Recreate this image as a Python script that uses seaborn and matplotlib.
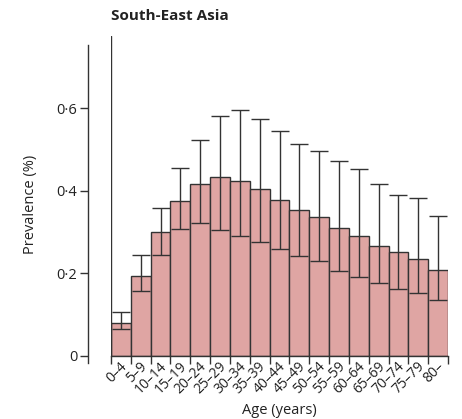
import matplotlib
matplotlib.use("Agg")
import matplotlib.pyplot as plt
import seaborn as sns
import pandas as pd
import numpy as np
from matplotlib.transforms import ScaledTranslation

# ---- data ----
age_groups = ["0–4", "5–9", "10–14", "15–19", "20–24", "25–29", "30–34", "35–39",
              "40–44", "45–49", "50–54", "55–59", "60–64", "65–69", "70–74", "75–79", "80–"]
prevalence = [0.079, 0.194, 0.301, 0.376, 0.416, 0.432, 0.424, 0.403, 0.378,
              0.354, 0.336, 0.310, 0.289, 0.267, 0.251, 0.234, 0.208]
lower_ci = [0.064, 0.158, 0.243, 0.307, 0.322, 0.304, 0.291, 0.276, 0.259,
            0.242, 0.229, 0.206, 0.191, 0.177, 0.161, 0.152, 0.135]
upper_ci = [0.107, 0.244, 0.359, 0.455, 0.523, 0.582, 0.596, 0.575, 0.544,
            0.513, 0.496, 0.471, 0.452, 0.416, 0.390, 0.382, 0.339]
y_ticks = [0, 0.2, 0.4, 0.6]
y_tick_labels = ["0", "0·2", "0·4", "0·6"]
title = "South-East Asia"
x_label = "Age (years)"
y_label = "Prevalence (%)"

bar_color = "#dfa5a3"
line_color = "#333333"
text_color = "#222222"

sns.set_theme(style="ticks")
plt.rcParams["font.family"] = ["Open Sans", "DejaVu Sans"]

fig = plt.figure(figsize=(4.62, 4.19), dpi=100)
ax = fig.add_axes([111 / 462, 1 - 355.7 / 419, 337 / 462, 319.7 / 419])

df = pd.DataFrame({"age": age_groups, "prev": prevalence})
sns.barplot(data=df, x="age", y="prev", color=bar_color, saturation=1,
            width=1.0, edgecolor=line_color, linewidth=1.0, errorbar=None, ax=ax)

x = np.arange(len(age_groups))
prev = np.array(prevalence)
yerr = [prev - np.array(lower_ci), np.array(upper_ci) - prev]
ax.errorbar(x, prev, yerr=yerr, fmt="none", ecolor=line_color, elinewidth=1.0,
            capsize=6.5, capthick=1.0, zorder=5)

ax.set_xlim(-0.5, len(age_groups) - 0.5)
ax.set_ylim(0, 0.775)

for s in ["top", "right"]:
    ax.spines[s].set_visible(False)
ax.spines["left"].set_position(("outward", 16.5))
ax.spines["left"].set_bounds(-0.017, 0.752)
ax.spines["left"].set_color(line_color)
ax.spines["left"].set_linewidth(1.0)
ax.spines["bottom"].set_bounds(-0.5, len(age_groups) - 0.5)
ax.spines["bottom"].set_color(line_color)
ax.spines["bottom"].set_linewidth(1.0)
ax.axvline(-0.5, color=line_color, lw=1.0, zorder=6)

ax.set_yticks(y_ticks)
ax.set_yticklabels(y_tick_labels)
ax.tick_params(axis="y", direction="out", length=5.8, width=1.0, color=line_color,
               labelsize=10.5, labelcolor=text_color, pad=2)

ax.set_xticks(x)
ax.set_xticklabels(age_groups, rotation=45, ha="right", va="center",
                   rotation_mode="anchor")
ax.set_xticks(np.arange(-0.5, len(age_groups), 1.0), minor=True)
ax.tick_params(axis="x", which="major", length=0, labelsize=10,
               labelcolor=text_color, pad=6)
ax.tick_params(axis="x", which="minor", direction="out", length=5.8, width=1.0,
               color=line_color)
offset = ScaledTranslation(0.04, 0, fig.dpi_scale_trans)
for lbl in ax.get_xticklabels():
    lbl.set_transform(lbl.get_transform() + offset)

ax.set_xlabel(x_label, fontsize=10.5, color=text_color)
ax.xaxis.set_label_coords(0.5, -0.148)
ax.set_ylabel(y_label, fontsize=10.5, color=text_color)
ax.yaxis.set_label_coords(-0.217, 0.4745)

fig.text(111 / 462, 1 - 20 / 419, title, fontsize=11, fontweight="bold",
         color=text_color, va="baseline", ha="left")

fig.savefig("out.png", dpi=100, facecolor="white")
